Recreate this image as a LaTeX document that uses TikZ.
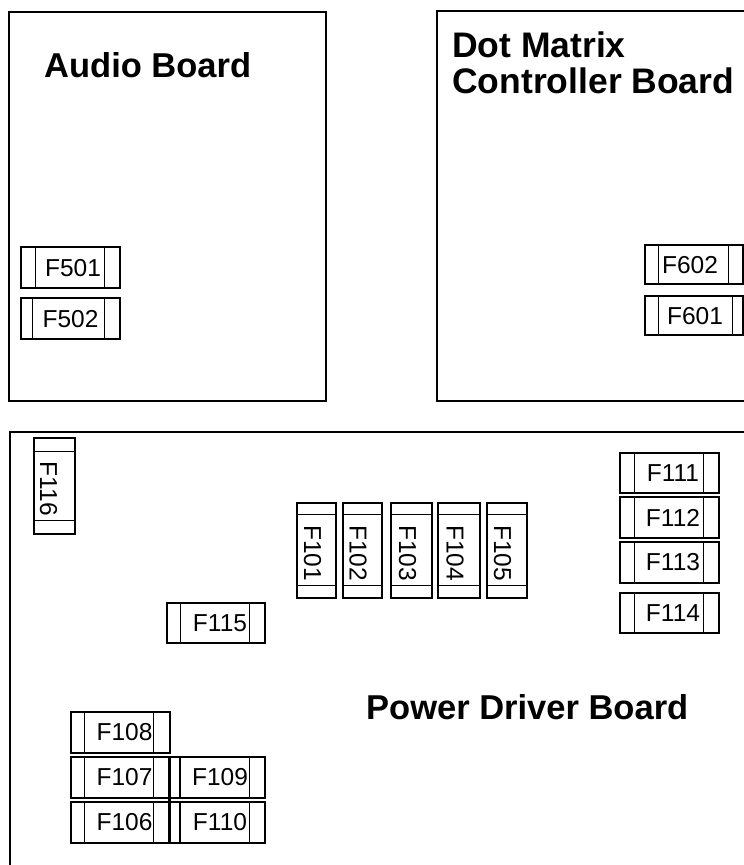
\documentclass[tikz,border=0pt]{standalone}
\usepackage{fontspec}
\setmainfont{Liberation Sans}
\tikzset{
  boardline/.style={line width=1.6pt, line join=miter},
  fusebox/.style={draw, line width=1.2pt, inner sep=0pt, rectangle},
  fuseline/.style={line width=1.2pt},
  thickbar/.style={line width=3pt},
  fuselbl/.style={font=\fontsize{24.5}{25}\selectfont, inner sep=0pt},
  boardtitle/.style={font=\fontsize{34.5}{36}\selectfont\bfseries, inner sep=0pt, align=left},
}
% horizontal fuse: name, x1, y1, x2, y2, left inset, right inset, label position, label
\newcommand\hfuse[9]{%
  \node[fusebox, minimum width={(#4-#2)*1pt}, minimum height={(#5-#3)*1pt}] (#1) at ({(#2+#4)/2},{(#3+#5)/2}) {};
  \draw[fuseline] ([xshift=#6pt]#1.north west) -- ([xshift=#6pt]#1.south west);
  \draw[fuseline] ([xshift=-#7pt]#1.north east) -- ([xshift=-#7pt]#1.south east);
  \node[fuselbl] (#1t) at (#8) {#9};
}
% vertical fuse: name, x1, y1, x2, y2, top inset, bottom inset, label position, label
\newcommand\vfuse[9]{%
  \node[fusebox, minimum width={(#4-#2)*1pt}, minimum height={(#5-#3)*1pt}] (#1) at ({(#2+#4)/2},{(#3+#5)/2}) {};
  \draw[fuseline] ([yshift=-#6pt]#1.north west) -- ([yshift=-#6pt]#1.north east);
  \draw[fuseline] ([yshift=#7pt]#1.south west) -- ([yshift=#7pt]#1.south east);
  \node[fuselbl, rotate=-90] (#1t) at (#8) {#9};
}
\begin{document}
\begin{tikzpicture}[x=1pt, y=-1pt]
\useasboundingbox (0,0) rectangle (744,865);
\clip (0,0) rectangle (744,865);

% boards
\draw[boardline] (9,12) rectangle (326,401);
\draw[boardline] (437,11) rectangle (760,401);
\draw[boardline] (10,432) rectangle (760,880);

% titles
\node[boardtitle, anchor=base west] (audiot) at (44,77) {Audio Board};
\node[boardtitle, anchor=base west, font=\fontsize{35.5}{36}\selectfont\bfseries] (dott) at (452,93) {Dot Matrix\\Controller Board};
\node[boardtitle, anchor=base west] (powert) at (366,719) {Power Driver Board};

% audio board fuses
\hfuse{F501}{21}{247}{120}{288}{15}{16}{73,268}{F501}
\hfuse{F502}{21}{298}{120}{339}{12}{16}{70.5,319}{F502}

% dot matrix board fuses
\hfuse{F602}{645}{245}{743}{284}{14}{15}{690,265}{F602}
\hfuse{F601}{645}{296}{743}{335}{14}{11}{695,316}{F601}

% power driver board fuses
\vfuse{F116}{34}{438}{75}{534}{14}{14}{48.5,489}{F116}
\vfuse{F101}{297}{503}{336}{598}{12}{13}{312.5,553}{F101}
\vfuse{F102}{343}{503}{382}{598}{12}{13}{358,553}{F102}
\vfuse{F103}{391}{503}{432}{598}{12}{13}{407.5,553}{F103}
\vfuse{F104}{438}{503}{480}{598}{12}{13}{455,553}{F104}
\vfuse{F105}{487}{503}{527}{598}{12}{13}{502.5,553}{F105}

\hfuse{F111}{620}{453}{719}{493}{15}{16}{673,473}{F111}
\hfuse{F112}{620}{497}{719}{538}{15}{16}{673,517.5}{F112}
\hfuse{F113}{620}{542}{719}{583}{15}{16}{673,562.5}{F113}
\hfuse{F114}{620}{593}{719}{633}{15}{16}{673,613}{F114}

\hfuse{F115}{167}{603}{265}{643}{14}{16}{220,623}{F115}

\hfuse{F108}{71}{712}{170}{753}{14}{17}{124.5,732.5}{F108}
\hfuse{F107}{71}{757}{168.5}{798}{14}{15.5}{124.5,777.5}{F107}
\hfuse{F106}{71}{802}{168.5}{843}{14}{15.5}{124.5,822.5}{F106}
\hfuse{F109}{169.5}{757}{265}{798}{11}{16}{220,777.5}{F109}
\hfuse{F110}{169.5}{802}{265}{843}{11}{16}{220,822.5}{F110}
\draw[thickbar] (F107.north east) -- (F106.south east);
\end{tikzpicture}
\end{document}
